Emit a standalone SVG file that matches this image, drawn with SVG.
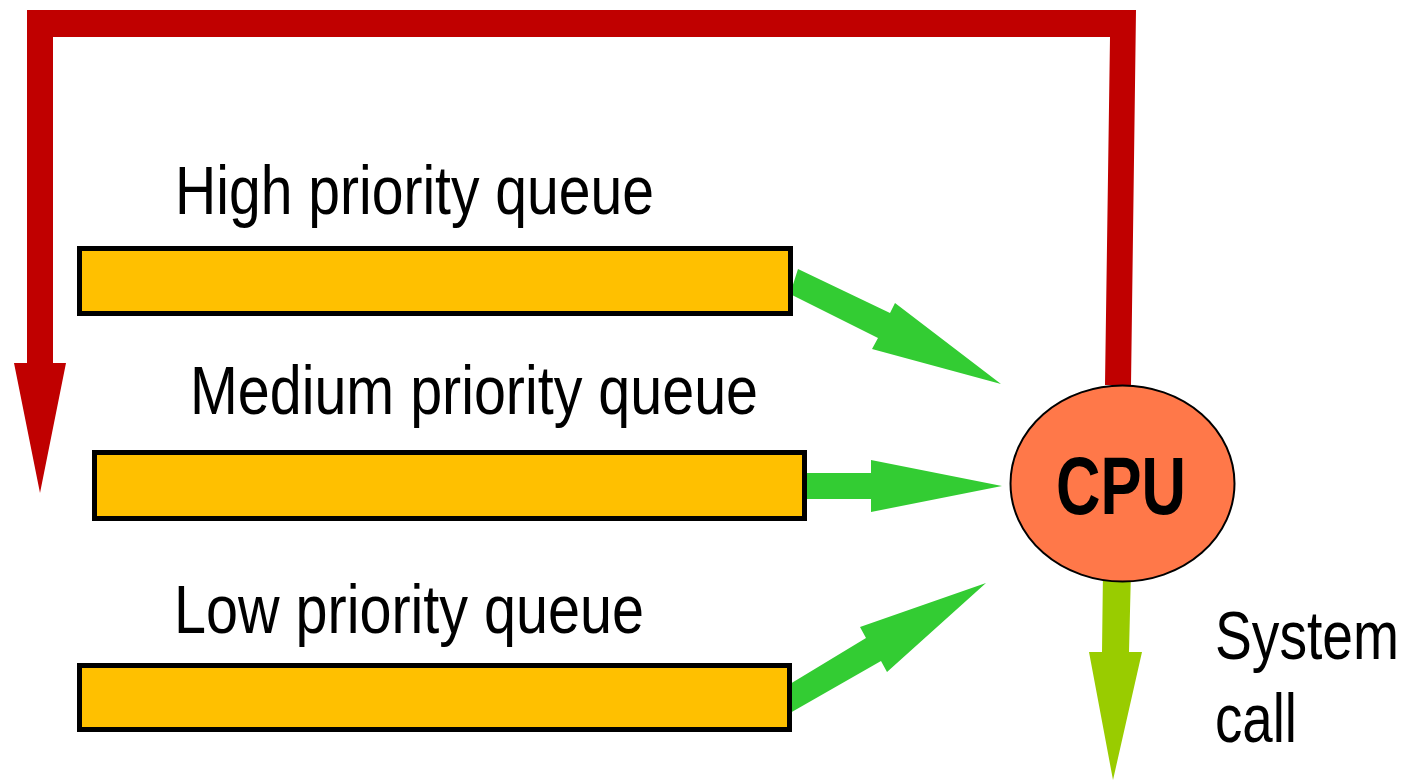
<svg xmlns="http://www.w3.org/2000/svg" width="1412" height="780" viewBox="0 0 1412 780">
<style>
.lbl{font-family:"Liberation Sans Narrow","Liberation Sans",Arial,sans-serif;font-size:69px;fill:#000}
.box{fill:#FFC000;stroke:#000;stroke-width:5}
.garrow{fill:#33CC33}
</style>
<rect width="1412" height="780" fill="#fff"/>
<g id="connectors">
<polygon id="feedback" fill="#C00000" points="27,10 1136,10 1131,385 1105,385 1110,37 53,37 53,363 66,363 40,493 14,363 27,363"/>
<polygon id="high-to-cpu" class="garrow" points="798,269 890,313 895,303 1001,384 872,349 878,338 790,294"/>
<polygon id="medium-to-cpu" class="garrow" points="800,473 871,473 871,460 1002,486 871,512 871,499 800,499"/>
<polygon id="low-to-cpu" class="garrow" points="790,684 866,638 860,627 986,583 887,672 881,661 790,713"/>
<polygon id="syscall" fill="#99CC00" points="1103,570 1131,570 1129,652 1142,652 1113,780 1089,652 1102,652"/>
</g>
<g id="high-queue">
<rect class="box" x="79.5" y="248.5" width="711" height="65"/>
<text class="lbl" x="175" y="214" textLength="479" lengthAdjust="spacingAndGlyphs">High priority queue</text>
</g>
<g id="medium-queue">
<rect class="box" x="94.5" y="452.5" width="710" height="66"/>
<text class="lbl" x="190" y="414" textLength="568" lengthAdjust="spacingAndGlyphs">Medium priority queue</text>
</g>
<g id="low-queue">
<rect class="box" x="79.5" y="665.5" width="710" height="64"/>
<text class="lbl" x="174" y="633" textLength="470" lengthAdjust="spacingAndGlyphs">Low priority queue</text>
</g>
<g id="cpu">
<ellipse cx="1122.5" cy="483.5" rx="112" ry="98" fill="#FF7849" stroke="#000" stroke-width="2"/>
<text class="lbl" x="1121" y="514" text-anchor="middle" style="font-size:81px;font-weight:bold" textLength="130" lengthAdjust="spacingAndGlyphs">CPU</text>
</g>
<g id="syscall-label">
<text class="lbl" transform="translate(1215,659) scale(0.8,1)" x="0" y="0">System</text>
<text class="lbl" x="1215" y="742" textLength="82" lengthAdjust="spacingAndGlyphs">call</text>
</g>
</svg>
